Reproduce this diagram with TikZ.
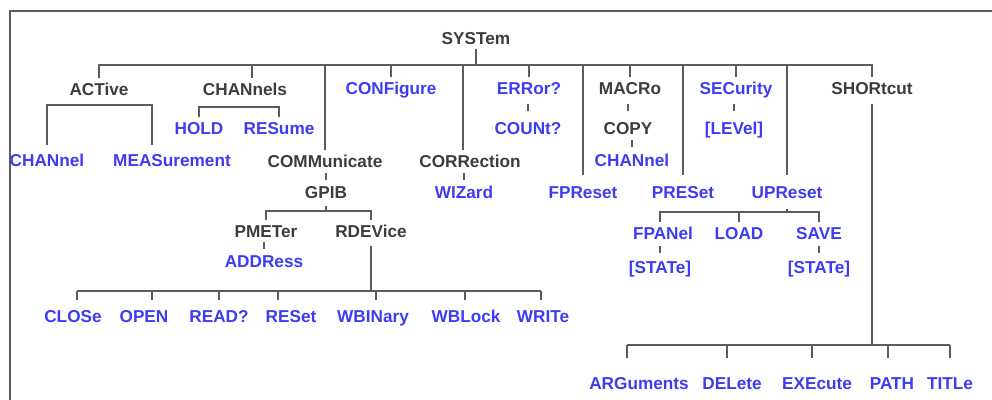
\documentclass[tikz,border=0pt]{standalone}
\usepackage{fontspec}
\setmainfont{Liberation Sans}
\usetikzlibrary{calc}
\definecolor{cmdgray}{HTML}{3C3C3C}
\definecolor{leafblue}{HTML}{3C3CF5}
\definecolor{wiregray}{HTML}{5C5C5C}

\tikzset{
  cmd/.style={text=cmdgray, font=\bfseries\fontsize{8.6}{10}\selectfont,
    inner sep=2pt, text height=6.3pt, text depth=0pt},
  leaf/.style={cmd, text=leafblue},
  wire/.style={draw=wiregray, line width=1.1pt},
}
\newcommand{\linkstem}[2]{%
  \path ($(#1.south)!.5!(#2.north)$) coordinate (mid);
  \draw[wire] (mid -| #2.north) ++(0,-3.5) -- ++(0,7);}

\begin{document}
\begin{tikzpicture}[x=0.5pt, y=-0.5pt]
  \useasboundingbox (0,0) rectangle (992,400);
  % frame
  \draw[wire, line width=1.2pt] (10,400) -- (10,11) -- (992,11);

  % command nodes
  \node[cmd] (sys) at (476,38) {SYSTem};
  \node[cmd] (act) at (99,89) {ACTive};
  \node[cmd] (chans) at (245,89) {CHANnels};
  \node[leaf] (conf) at (391,88) {CONFigure};
  \node[leaf] (err) at (529,88) {ERRor?};
  \node[cmd] (macr) at (630,88) {MACRo};
  \node[leaf] (sec) at (736,88) {SECurity};
  \node[cmd] (shor) at (872,88) {SHORtcut};

  \node[leaf] (hold) at (199,128) {HOLD};
  \node[leaf] (res) at (279,128) {RESume};
  \node[leaf] (cnt) at (528,128) {COUNt?};
  \node[cmd] (copy) at (628,128) {COPY};
  \node[leaf] (lev) at (734,128) {[LEVel]};

  \node[leaf] (chan) at (47,160) {CHANnel};
  \node[leaf] (meas) at (172,160) {MEASurement};
  \node[cmd] (comm) at (325,161) {COMMunicate};
  \node[cmd] (corr) at (470,161) {CORRection};
  \node[leaf] (mchan) at (632,160) {CHANnel};

  \node[cmd] (gpib) at (326,192) {GPIB};
  \node[leaf] (wiz) at (464,192) {WIZard};
  \node[leaf] (fpr) at (583,192) {FPReset};
  \node[leaf] (pres) at (683,192) {PRESet};
  \node[leaf] (upr) at (787,192) {UPReset};

  \node[cmd] (pmet) at (266,231) {PMETer};
  \node[cmd] (rdev) at (371,231) {RDEVice};
  \node[leaf] (fpan) at (663,233) {FPANel};
  \node[leaf] (load) at (739,233) {LOAD};
  \node[leaf] (save) at (819,233) {SAVE};

  \node[leaf] (addr) at (264,261) {ADDRess};
  \node[leaf] (st1) at (660,267) {[STATe]};
  \node[leaf] (st2) at (819,267) {[STATe]};

  \node[leaf] (close) at (73,316) {CLOSe};
  \node[leaf] (open) at (144,316) {OPEN};
  \node[leaf] (read) at (219,316) {READ?};
  \node[leaf] (rset) at (291,316) {RESet};
  \node[leaf] (wbin) at (373,316) {WBINary};
  \node[leaf] (wblk) at (466,316) {WBLock};
  \node[leaf] (writ) at (543,316) {WRITe};

  \node[leaf] (args) at (639,383) {ARGuments};
  \node[leaf] (del) at (732,383) {DELete};
  \node[leaf] (exec) at (817,383) {EXEcute};
  \node[leaf] (pth) at (892,383) {PATH};
  \node[leaf] (titl) at (950,383) {TITLe};

  % bar levels
  \coordinate (topbar) at (0,65);
  \coordinate (actbar) at (0,105);
  \coordinate (chbar) at (0,107);
  \coordinate (gpbar) at (0,211);
  \coordinate (ubar) at (0,212);
  \coordinate (rbar) at (0,291);
  \coordinate (sbar) at (0,345);

  % top bar
  \draw[wire] (sys.south) -- (sys.south |- topbar);
  \draw[wire] (act.north) |- (shor.north |- topbar) -- (shor.north);
  \foreach \n in {conf, err, macr, sec}
    \draw[wire] (\n.north) -- (\n.north |- topbar);
  \draw[wire] ([xshift=3.5pt]chans.north) -- ([xshift=3.5pt]chans.north |- topbar);
  \draw[wire] (comm.north) -- (comm.north |- topbar);
  \draw[wire] ([xshift=-3.5pt]corr.north) -- ([xshift=-3.5pt]corr.north |- topbar);
  \foreach \n in {fpr, pres, upr}
    \draw[wire] ([yshift=3pt]\n.north) -- (\n.north |- topbar);

  % small brackets
  \draw[wire] ([yshift=2pt]chan.north) |- ([xshift=-10pt]meas.north |- actbar)
    -- ([xshift=-10pt,yshift=2pt]meas.north);
  \draw[wire] (hold.north) |- (res.north |- chbar) -- (res.north);

  % single links
  \linkstem{err}{cnt}
  \linkstem{macr}{copy}
  \linkstem{copy}{mchan}
  \linkstem{sec}{lev}
  \linkstem{comm}{gpib}
  \linkstem{corr}{wiz}
  \linkstem{pmet}{addr}
  \linkstem{fpan}{st1}
  \linkstem{save}{st2}

  % GPIB
  \draw[wire] ([yshift=-1.5pt]gpib.south) -- (gpib.south |- gpbar);
  \draw[wire] (pmet.north) |- (rdev.north |- gpbar) -- (rdev.north);

  % RDEVice
  \draw[wire] ([yshift=-2pt]rdev.south) -- (rdev.south |- rbar);
  \draw[wire] ([xshift=2pt]close.north |- rbar) -- ([xshift=-1pt]writ.north |- rbar);
  \foreach \n/\dx in {close/2, open/4, read/0, rset/-6.5, wbin/1.5, wblk/-0.5, writ/-1}
    \draw[wire] ([xshift=\dx pt]\n.north |- rbar) -- ++(0,9);

  % UPReset
  \draw[wire] ([yshift=-3pt]upr.south) -- (upr.south |- ubar);
  \draw[wire] ([xshift=-1.5pt]fpan.north) |- (save.north |- ubar) -- (save.north);
  \draw[wire] (load.north) -- (load.north |- ubar);

  % SHORtcut
  \draw[wire] ([yshift=-2.5pt]shor.south) -- (shor.south |- sbar);
  \draw[wire] ([xshift=-6pt]args.north |- sbar) -- (titl.north |- sbar);
  \foreach \n/\dx in {args/-6, del/-2.5, exec/-2.5, pth/-2, titl/0}
    \draw[wire] ([xshift=\dx pt]\n.north |- sbar) -- ++(0,13);
\end{tikzpicture}
\end{document}
